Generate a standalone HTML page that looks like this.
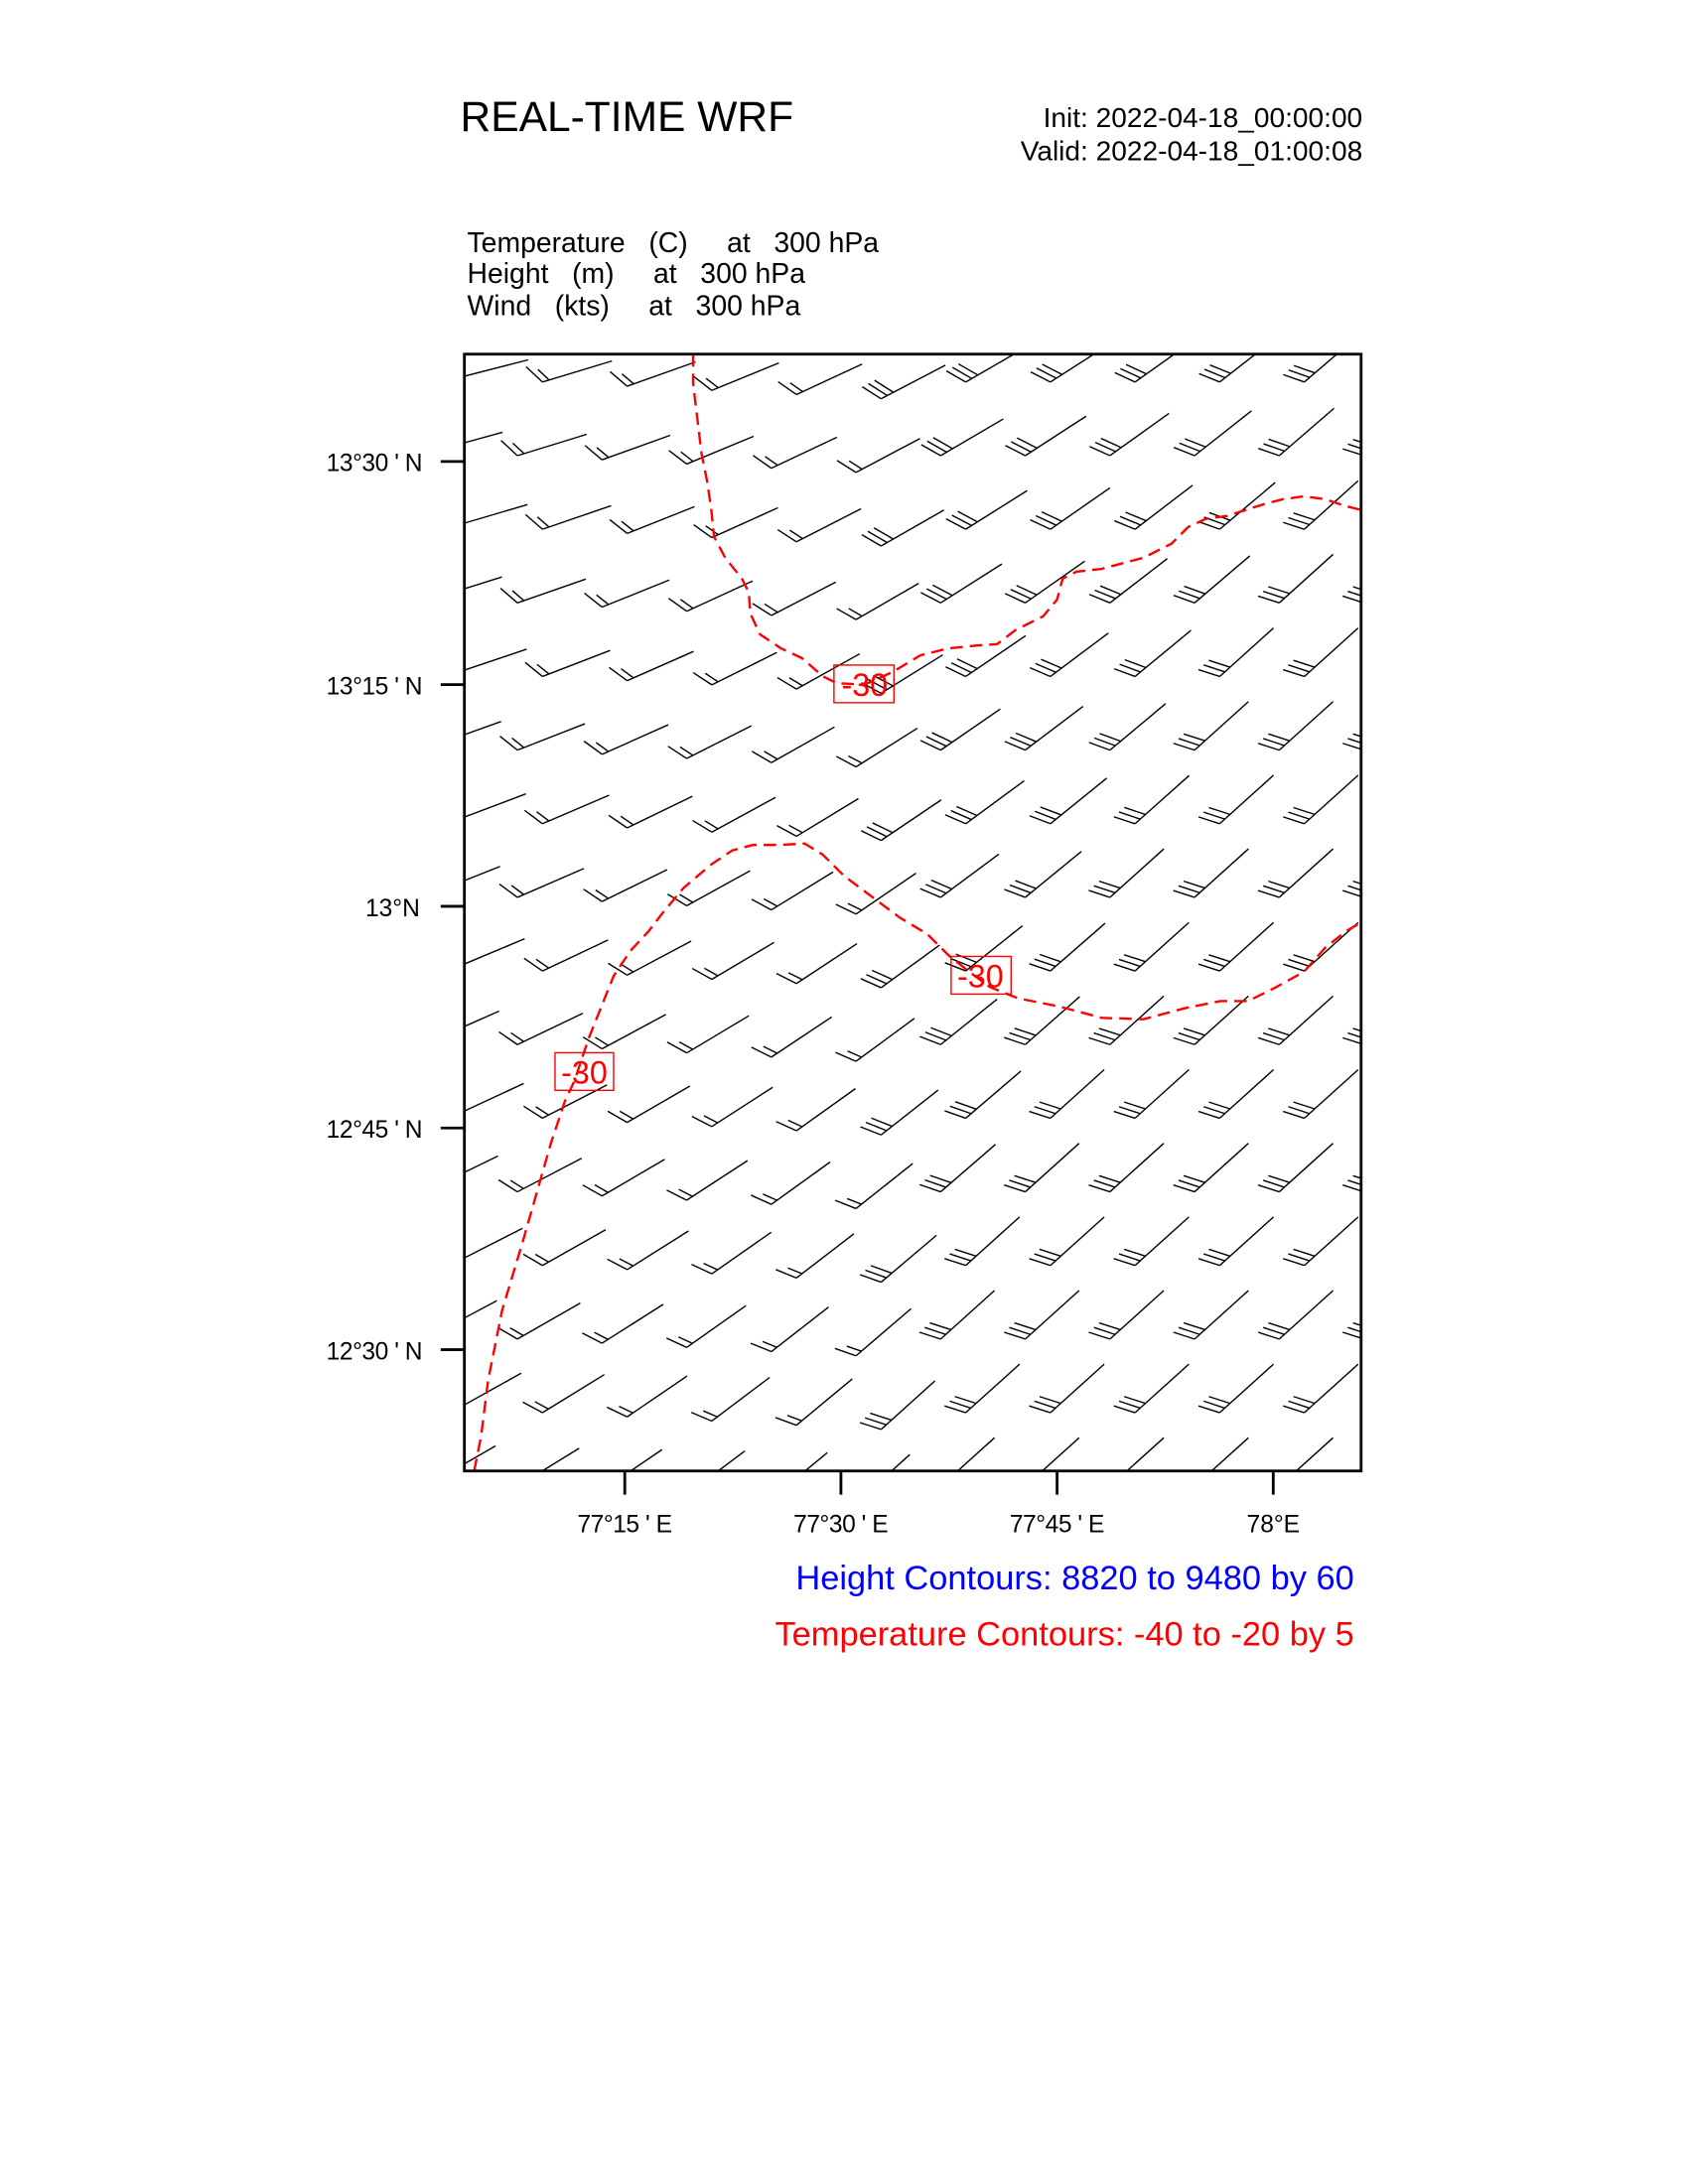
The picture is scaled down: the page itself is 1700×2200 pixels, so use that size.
<!DOCTYPE html>
<html><head><meta charset="utf-8"><style>html,body{margin:0;padding:0;background:#fff}svg{display:block}</style></head>
<body>
<svg id="s" xmlns="http://www.w3.org/2000/svg" width="1700" height="2200" viewBox="0 0 1210.4 1566.4" font-family="Liberation Sans, sans-serif">
<rect width="1210.4" height="1566.4" fill="#fff"/>
<text x="330" y="94" font-size="30.3">REAL-TIME WRF</text>
<text x="977" y="91" font-size="20" text-anchor="end">Init: 2022-04-18_00:00:00</text>
<text x="977" y="115" font-size="20" text-anchor="end">Valid: 2022-04-18_01:00:08</text>
<text x="335" y="181" font-size="20.2" xml:space="preserve">Temperature   (C)     at   300 hPa</text>
<text x="335" y="203" font-size="20.2" xml:space="preserve">Height   (m)     at   300 hPa</text>
<text x="335" y="226" font-size="20.2" xml:space="preserve">Wind   (kts)     at   300 hPa</text>
<defs><clipPath id="c"><rect x="333" y="254" width="643" height="801"/></clipPath></defs>
<g id="barbs" clip-path="url(#c)" stroke="#000" stroke-width="1" fill="none"></g>
<g clip-path="url(#c)" fill="none" stroke="#f00" stroke-width="1.7" stroke-dasharray="9 5">
<polyline points="497,254 497,275 500,300 503,325 507,345 510,365 512,385 520,400 532,415 537,425 538,440 545,455 560,465 575,472 590,485 600,490 620,491 640,482 660,470 680,465 700,463 715,462 728,452 748,442 758,430 762,415 772,410 790,408 820,400 840,390 852,378 865,372 880,370 905,362 920,358 935,356 950,358 965,363 977,366"/>
<polyline points="340,1055 345,1030 350,990 360,940 375,890 385,855 395,820 405,790 412,775 422,745 430,725 440,700 452,682 465,668 475,655 490,637 510,620 525,610 540,606 560,606 577,605 590,613 605,628 625,643 645,658 665,670 680,685 695,697 710,708 730,716 760,722 790,730 820,731 850,723 875,718 895,718 915,708 935,697 950,680 965,668 977,661"/>
</g>
<g fill="none" stroke="#f00" stroke-width="1">
<rect x="598" y="477" width="43" height="27"/>
<rect x="682" y="686" width="43" height="27"/>
<rect x="398" y="755" width="42" height="27"/>
</g>
<g fill="#f00" font-size="23" text-anchor="middle">
<text x="620" y="499">-30</text>
<text x="703" y="708">-30</text>
<text x="419" y="777">-30</text>
</g>
<rect x="333" y="254" width="643" height="801" fill="none" stroke="#000" stroke-width="2"/>
<g stroke="#000" stroke-width="2">
<line x1="316" y1="331" x2="333" y2="331"/><line x1="316" y1="491" x2="333" y2="491"/>
<line x1="316" y1="650" x2="333" y2="650"/><line x1="316" y1="809" x2="333" y2="809"/>
<line x1="316" y1="968" x2="333" y2="968"/>
<line x1="448" y1="1055" x2="448" y2="1072"/><line x1="603" y1="1055" x2="603" y2="1072"/>
<line x1="758" y1="1055" x2="758" y2="1072"/><line x1="913" y1="1055" x2="913" y2="1072"/>
</g>
<g font-size="17.5">
<text x="234" y="338" textLength="69" lengthAdjust="spacing">13°30 ' N</text><text x="234" y="498" textLength="69" lengthAdjust="spacing">13°15 ' N</text>
<text x="262" y="657">13°N</text><text x="234" y="816" textLength="69" lengthAdjust="spacing">12°45 ' N</text>
<text x="234" y="975" textLength="69" lengthAdjust="spacing">12°30 ' N</text>
</g>
<g font-size="17.5">
<text x="414" y="1099" textLength="68" lengthAdjust="spacing">77°15 ' E</text><text x="569" y="1099" textLength="68" lengthAdjust="spacing">77°30 ' E</text>
<text x="724" y="1099" textLength="68" lengthAdjust="spacing">77°45 ' E</text><text x="913" y="1099" text-anchor="middle">78°E</text>
</g>
<text x="971" y="1140" font-size="24.5" fill="#00f" text-anchor="end">Height Contours: 8820 to 9480 by 60</text>
<text x="971" y="1180" font-size="24.5" fill="#f00" text-anchor="end">Temperature Contours: -40 to -20 by 5</text>
</svg>
<script>
var g=document.getElementById('barbs'),h='';
for(var j=-1;j<=16;j++){for(var i=-1;i<=11;i++){
var x=(j%2==0?389:371)+60.7*i, y=274+52.8*j+ (i<5?3*i:0);
var u=Math.max(0,Math.min(1,(x-333)/643)), v=Math.max(0,Math.min(1,(y-254)/801));
var a=Math.min(42,14+28*u+16*v)*Math.PI/180, L=52;
var dx=Math.cos(a), dy=-Math.sin(a);
h+='<line x1="'+x.toFixed(1)+'" y1="'+y.toFixed(1)+'" x2="'+(x+L*dx).toFixed(1)+'" y2="'+(y+L*dy).toFixed(1)+'"/>';
var fa=a+120*Math.PI/180, fx=Math.cos(fa), fy=-Math.sin(fa);
var n=(u<0.45?2:3);
for(var k=0;k<n;k++){var px=x+k*5*dx, py=y+k*5*dy, fl=(k==n-1&&n==2)?11:16;
h+='<line x1="'+px.toFixed(1)+'" y1="'+py.toFixed(1)+'" x2="'+(px+fl*fx).toFixed(1)+'" y2="'+(py+fl*fy).toFixed(1)+'"/>';}
}}
g.innerHTML=h;
</script>
</body></html>
